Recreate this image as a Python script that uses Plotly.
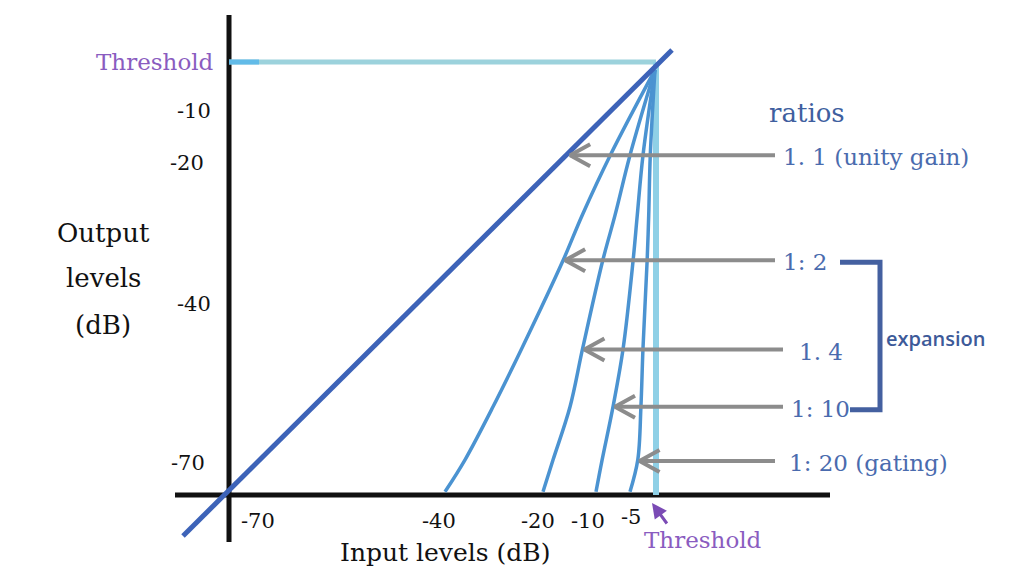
import numpy as np
import plotly.graph_objects as go

# ---------------- data (dB) ----------------
# hand-drawn axes: tick values and where they sit along each axis (sketch units)
x_tick_vals = [-76.5, -70, -40, -20, -10, -5, 0, 3.1]
x_tick_pos = [183, 229, 443, 543, 596, 630, 656, 672]
y_tick_vals = [2.4, 0, -10, -20, -40, -70, -76, -83.7]
y_tick_pos = [50, 62, 111, 163, 304, 463, 495, 536]

x_labels = ["-70", "-40", "-20", "-10", "-5"]
x_label_pos = [258, 439, 538, 588, 631]
y_labels = ["-10", "-20", "-40", "-70"]
y_label_vals = [-10, -20, -40, -70]
y_label_right = [213, 206, 213, 207]

threshold_db = 0
axis_floor_db = -76

# unity gain line (1:1) end points
unity_in = [-76.5, 3.1]
unity_out = [-83.7, 2.4]

# expansion curves: output levels shared, input levels per ratio
out_levels = [-1.6, -18.5, -27.4, -33.8, -48.3, -59.4, -69.4, -75.4]
in_1_2 = [-0.2, -7.9, -12.6, -16.2, -24.2, -30.0, -35.6, -39.6]
in_1_4 = [-0.2, -5.0, -7.2, -9.0, -12.5, -14.9, -18.1, -20.0]
in_1_10 = [-0.2, -2.5, -3.6, -4.4, -6.0, -7.5, -9.1, -10.0]
in_1_20 = [-0.2, -1.1, -1.4, -1.7, -2.5, -2.9, -3.5, -5.0]

ratio_names = ["1:1", "1:2", "1:4", "1:10", "1:20"]
ratio_texts = ["1. 1 (unity gain)", "1: 2", "1. 4", "1: 10", "1: 20 (gating)"]
arrow_out = [-18.5, -33.8, -48.6, -59.4, -69.6]

# ---------------- scales ----------------
xv = np.array(x_tick_vals)
xp = np.array(x_tick_pos)
yv = np.array(y_tick_vals)[::-1]
yp = np.array(y_tick_pos)[::-1]


def sx(v):
    return np.interp(v, xv, xp)


def sy(v):
    return np.interp(v, yv, yp)


BLACK = "#111111"
UNITY = "#3d63b8"
CURVE = "#4b93d1"
THRESH = "#9cd2dc"
GRAY = "#8c8c8c"
PURPLE = "#8a5cc0"
LABEL_BLUE = "#4a6bae"
SERIF = "DejaVu Serif"

fig = go.Figure()


def line(xs, ys, color, width, shape="linear"):
    fig.add_trace(go.Scatter(x=xs, y=ys, mode="lines", hoverinfo="skip",
                             line=dict(color=color, width=width, shape=shape)))


# axes
line([sx(-70), sx(-70)], [15, 542], BLACK, 5)
line([175, 830], [sy(axis_floor_db), sy(axis_floor_db)], BLACK, 5)

# threshold lines
line([sx(-70), sx(threshold_db)], [sy(threshold_db), sy(threshold_db)], THRESH, 5)
line([sx(-70), sx(-70) + 30], [sy(threshold_db), sy(threshold_db)], "#62bbe8", 5)
line([sx(threshold_db), sx(threshold_db)], [sy(threshold_db), sy(axis_floor_db)], "#8fd0e6", 6)

# expansion curves
curves = [in_1_2, in_1_4, in_1_10, in_1_20]
for ins in curves:
    line(sx(np.array(ins)), sy(np.array(out_levels)), CURVE, 3.5, "spline")

# unity line
ux = sx(np.array(unity_in))
uy = sy(np.array(unity_out))
line(ux, uy, UNITY, 5)

# gray arrows pointing at each ratio curve
tails = [775, 775, 783, 783, 775]
label_x = [781, 781, 797, 789, 787]
ax_list, ay_list = [], []
for i, o in enumerate(arrow_out):
    yy = float(sy(o))
    if i == 0:
        tip = ux[0] + (yy - uy[0]) * (ux[1] - ux[0]) / (uy[1] - uy[0]) + 4
    else:
        ins = curves[i - 1]
        tip = float(np.interp(yy, sy(np.array(out_levels)), sx(np.array(ins)))) + 2
    ax_list += [tails[i], tip, None, tip + 20, tip, tip + 20, None]
    ay_list += [yy, yy, None, yy - 11, yy, yy + 11, None]
fig.add_trace(go.Scatter(x=ax_list, y=ay_list, mode="lines", hoverinfo="skip",
                         line=dict(color=GRAY, width=4)))

# expansion bracket (1:2 .. 1:10)
by_top = float(sy(arrow_out[1])) + 2
by_bot = float(sy(arrow_out[3])) + 3
line([840, 880, 880, 850], [by_top, by_top, by_bot, by_bot], "#4460a0", 5)

# ---------------- text ----------------
ann = []


def text(x, y, s, size, color, xanchor="center", family=SERIF, weight=None):
    f = dict(family=family, size=size, color=color)
    if weight:
        f["weight"] = weight
    ann.append(dict(x=x, y=y, xref="x", yref="y", text=s, showarrow=False,
                    xanchor=xanchor, yanchor="middle", font=f))


text(216, sy(threshold_db), "Threshold", 23, PURPLE, "right")
for s, v, r in zip(y_labels, y_label_vals, y_label_right):
    text(r, y_tick_pos[y_tick_vals.index(v)], s, 21, BLACK, "right")
for s, p in zip(x_labels, x_label_pos):
    text(p, 521 if s != "-5" else 517, s, 21, BLACK)
text(103, 233, "Output", 26, BLACK)
text(103, 278, "levels", 26, BLACK)
text(103, 325, "(dB)", 26, BLACK)
text(445, 552, "Input levels (dB)", 25, BLACK)
text(703, 540, "Threshold", 23, PURPLE)
text(807, 113, "ratios", 26, "#3f5f9f")
for i, s in enumerate(ratio_texts):
    text(label_x[i], float(sy(arrow_out[i])) + 2, s, 23, LABEL_BLUE, "left")
text(884, 338, "expansion", 20, "#3d5a99", "left", "Open Sans", 600)

# purple arrow pointing at the threshold on the input axis
ann.append(dict(x=652, y=503, xref="x", yref="y", ax=668, ay=525, axref="x", ayref="y",
                text="", showarrow=True, arrowhead=2, arrowsize=1, arrowwidth=3,
                arrowcolor="#7b4bb5"))

fig.update_layout(
    width=1024, height=576, autosize=False,
    margin=dict(l=0, r=0, t=0, b=0),
    paper_bgcolor="white", plot_bgcolor="white",
    showlegend=False, annotations=ann,
    xaxis=dict(range=[0, 1024], visible=False, fixedrange=True),
    yaxis=dict(range=[576, 0], visible=False, fixedrange=True),
)
fig.write_html("out.html")
